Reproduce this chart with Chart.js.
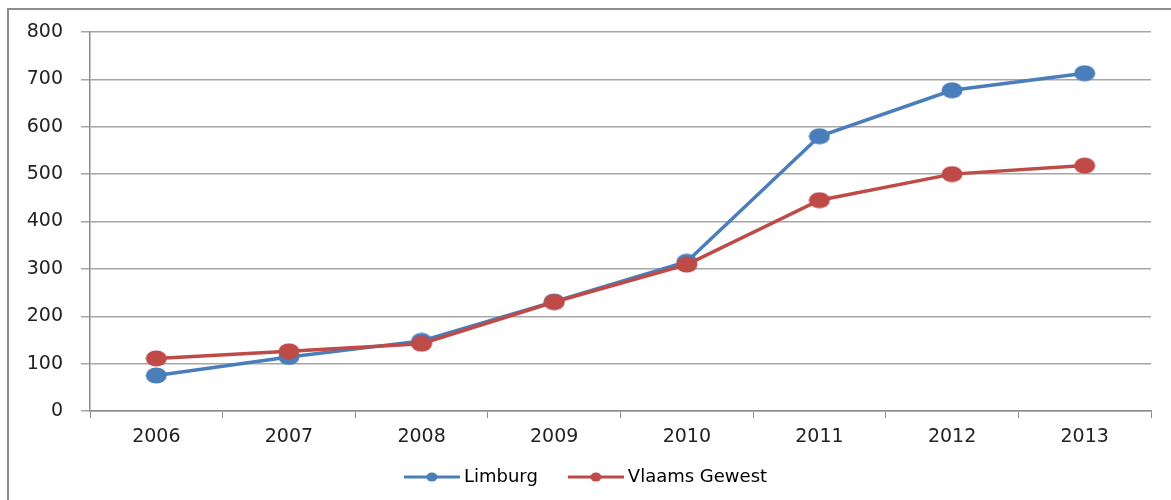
<!DOCTYPE html>
<html lang="nl">
<head>
  <meta charset="UTF-8">
  <title>Limburg vs Vlaams Gewest</title>
  <script src="https://cdn.jsdelivr.net/npm/chart.js"></script>
  <style>
    html, body {
      margin: 0;
      padding: 0;
      background: #fff;
    }
    #wrap {
      width: 1171px;
      height: 500px;
      position: relative;
    }
  </style>
</head>
<body>
<div id="wrap"><canvas id="trend"></canvas></div>

<script>
const years = ['2006', '2007', '2008', '2009', '2010', '2011', '2012', '2013'];
const limburg = [75, 114, 148, 231, 315, 580, 677, 713];
const vlaamsGewest = [111, 126, 142, 230, 309, 445, 500, 518];
const yTicks = [0, 100, 200, 300, 400, 500, 600, 700, 800];

const BLUE = '#4a7ebb';
const RED = '#be4b48';
const FONT = '"DejaVu Sans", sans-serif';

// legend box width; the symbol image is a bit wider so the line sits close to the text
const LEGEND_BOX = 71;
const LEGEND_EXTRA = 5;

// oval markers, a bit wider than tall
function ovalMarker(color) {
  const c = document.createElement('canvas');
  c.width = 22; c.height = 17;
  const g = c.getContext('2d');
  g.fillStyle = color;
  g.beginPath();
  g.ellipse(11, 8.5, 10.5, 8, 0, 0, Math.PI * 2);
  g.fill();
  return c;
}

// legend symbol: short line with a dot, right-aligned in the image
function legendSymbol(color) {
  const c = document.createElement('canvas');
  const w = LEGEND_BOX + 2 * LEGEND_EXTRA;
  c.width = w; c.height = 12;
  const g = c.getContext('2d');
  g.strokeStyle = color;
  g.lineWidth = 3;
  g.beginPath();
  g.moveTo(w - 56, 6);
  g.lineTo(w, 6);
  g.stroke();
  g.fillStyle = color;
  g.beginPath();
  g.ellipse(w - 28, 6, 5.5, 4.5, 0, 0, Math.PI * 2);
  g.fill();
  return c;
}

// gray frame around the chart (left and top edges are visible)
const framePlugin = {
  id: 'frame',
  beforeDraw(chart) {
    const ctx = chart.ctx;
    ctx.save();
    ctx.strokeStyle = '#8c8c8c';
    ctx.lineWidth = 2;
    ctx.beginPath();
    ctx.moveTo(8, chart.height);
    ctx.lineTo(8, 9);
    ctx.lineTo(chart.width, 9);
    ctx.stroke();
    ctx.restore();
  }
};

const datasets = [
  {
    label: 'Limburg',
    data: limburg,
    borderColor: BLUE,
    backgroundColor: BLUE,
    borderWidth: 3.5,
    pointStyle: ovalMarker(BLUE),
    pointBorderWidth: 0,
    order: 1
  },
  {
    label: 'Vlaams Gewest',
    data: vlaamsGewest,
    borderColor: RED,
    backgroundColor: RED,
    borderWidth: 3.5,
    pointStyle: ovalMarker(RED),
    pointBorderWidth: 0,
    order: 0
  }
];

new Chart(document.getElementById('trend'), {
  type: 'line',
  data: { labels: years, datasets: datasets },
  plugins: [framePlugin],
  options: {
    responsive: true,
    maintainAspectRatio: false,
    animation: false,
    events: [],
    layout: { padding: { top: 32, right: 20, left: 0, bottom: 4 } },
    elements: { line: { tension: 0 } },
    plugins: {
      tooltip: { enabled: false },
      legend: {
        position: 'bottom',
        labels: {
          usePointStyle: true,
          pointStyleWidth: LEGEND_BOX,
          padding: 10,
          color: '#222',
          font: { family: FONT, size: 18 },
          generateLabels(chart) {
            return chart.data.datasets.map((ds, i) => ({
              text: ds.label,
              datasetIndex: i,
              pointStyle: legendSymbol(ds.borderColor),
              fillStyle: ds.borderColor,
              strokeStyle: ds.borderColor,
              lineWidth: 0,
              hidden: false
            }));
          }
        }
      }
    },
    scales: {
      x: {
        offset: true,
        grid: {
          offset: true,
          drawOnChartArea: false,
          tickLength: 7,
          color: '#8c8c8c'
        },
        border: { color: '#8c8c8c', width: 1.5 },
        ticks: {
          padding: 8,
          color: '#222',
          font: { family: FONT, size: 19 }
        },
        afterFit(scale) { scale.height = 47; }
      },
      y: {
        min: 0,
        max: 800,
        afterBuildTicks(scale) {
          scale.ticks = yTicks.map(v => ({ value: v }));
        },
        grid: {
          color: '#a6a6a6',
          lineWidth: 1.5,
          tickLength: 9
        },
        border: { color: '#8c8c8c', width: 1.5 },
        ticks: {
          padding: 18,
          color: '#222',
          font: { family: FONT, size: 19 }
        },
        afterFit(scale) { scale.width = 90; }
      }
    }
  }
});
</script>
</body>
</html>
